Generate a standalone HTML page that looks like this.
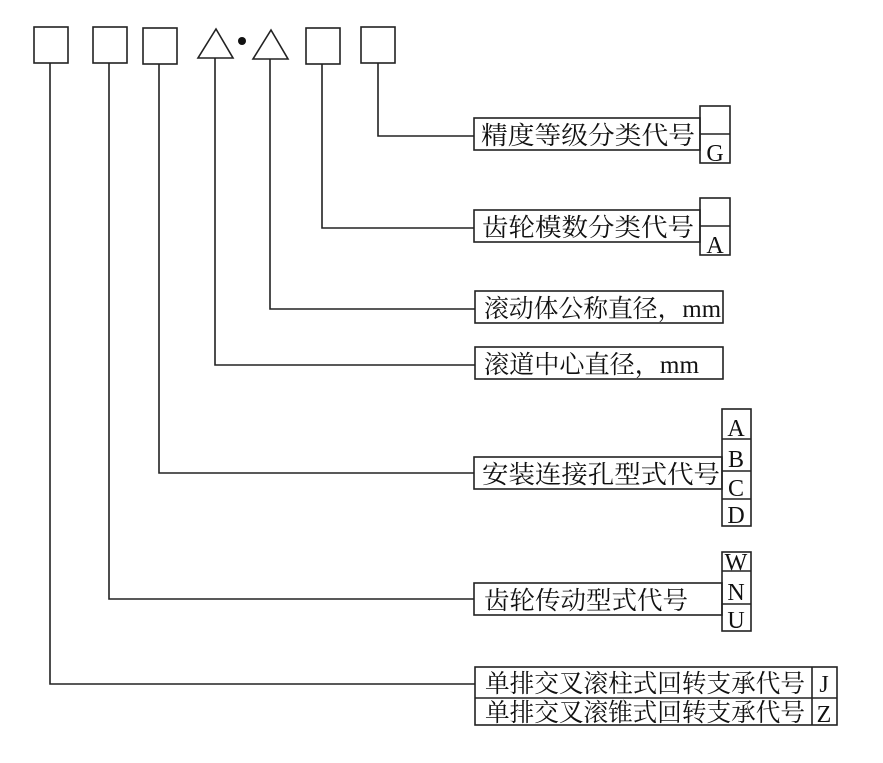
<!DOCTYPE html>
<html><head><meta charset="utf-8"><style>
body{margin:0;background:#fff;width:883px;height:758px;overflow:hidden}
svg text{font-family:"Liberation Serif","Noto Serif CJK SC",serif;fill:#111}
</style></head><body>
<svg width="883" height="758" viewBox="0 0 883 758" xmlns="http://www.w3.org/2000/svg">
<g fill="none" stroke="#222" stroke-width="1.6">
<rect x="34" y="27" width="34" height="36"/>
<rect x="93" y="27" width="34" height="36"/>
<rect x="143" y="28" width="34" height="36"/>
<polygon points="216,29 198,58 233,58"/>
<polygon points="271,30 253,59 288,59"/>
<rect x="306" y="28" width="34" height="36"/>
<rect x="361" y="27" width="34" height="36"/>
<polyline points="378,63 378,136 474,136"/>
<polyline points="322,64 322,228 474,228"/>
<polyline points="270,59 270,309 475,309"/>
<polyline points="215,58 215,365 475,365"/>
<polyline points="159,64 159,473 474,473"/>
<polyline points="109,63 109,599 474,599"/>
<polyline points="50,63 50,684 475,684"/>
<rect x="474" y="118" width="226" height="32"/>
<rect x="700" y="106" width="30" height="57"/><line x1="700" y1="134" x2="730" y2="134"/>
<rect x="474" y="210" width="226" height="32"/>
<rect x="700" y="198" width="30" height="57"/><line x1="700" y1="226" x2="730" y2="226"/>
<rect x="475" y="291" width="248" height="32"/>
<rect x="475" y="347" width="248" height="32"/>
<rect x="474" y="457" width="248" height="32"/>
<rect x="722" y="409" width="29" height="117"/>
<line x1="722" y1="439" x2="751" y2="439"/><line x1="722" y1="471" x2="751" y2="471"/><line x1="722" y1="499" x2="751" y2="499"/>
<rect x="474" y="583" width="248" height="32"/>
<rect x="722" y="552" width="29" height="79"/>
<line x1="722" y1="571" x2="751" y2="571"/><line x1="722" y1="604" x2="751" y2="604"/>
<rect x="475" y="667" width="362" height="58"/>
<line x1="475" y1="698" x2="837" y2="698"/><line x1="812" y1="667" x2="812" y2="725"/>
</g>
<circle cx="242" cy="41" r="4" fill="#111"/>
<g font-size="25">
<text x="481" y="144" textLength="214" lengthAdjust="spacingAndGlyphs">精度等级分类代号</text>
<text x="482" y="236" textLength="212" lengthAdjust="spacingAndGlyphs">齿轮模数分类代号</text>
<text x="484" y="317" textLength="237" lengthAdjust="spacingAndGlyphs">滚动体公称直径，mm</text>
<text x="484" y="373" textLength="215" lengthAdjust="spacingAndGlyphs">滚道中心直径，mm</text>
<text x="482" y="483" textLength="238" lengthAdjust="spacingAndGlyphs">安装连接孔型式代号</text>
<text x="484" y="609" textLength="204" lengthAdjust="spacingAndGlyphs">齿轮传动型式代号</text>
<text x="485" y="692" textLength="320" lengthAdjust="spacingAndGlyphs">单排交叉滚柱式回转支承代号</text>
<text x="485" y="721" textLength="320" lengthAdjust="spacingAndGlyphs">单排交叉滚锥式回转支承代号</text>
</g>
<g font-size="24" text-anchor="middle">
<text x="715" y="161">G</text>
<text x="715" y="253">A</text>
<text x="736" y="436">A</text>
<text x="736" y="467">B</text>
<text x="736" y="496">C</text>
<text x="736" y="523">D</text>
<text x="736" y="570">W</text>
<text x="736" y="600">N</text>
<text x="736" y="628">U</text>
<text x="824" y="692">J</text>
<text x="824" y="722">Z</text>
</g>
</svg>
</body></html>
